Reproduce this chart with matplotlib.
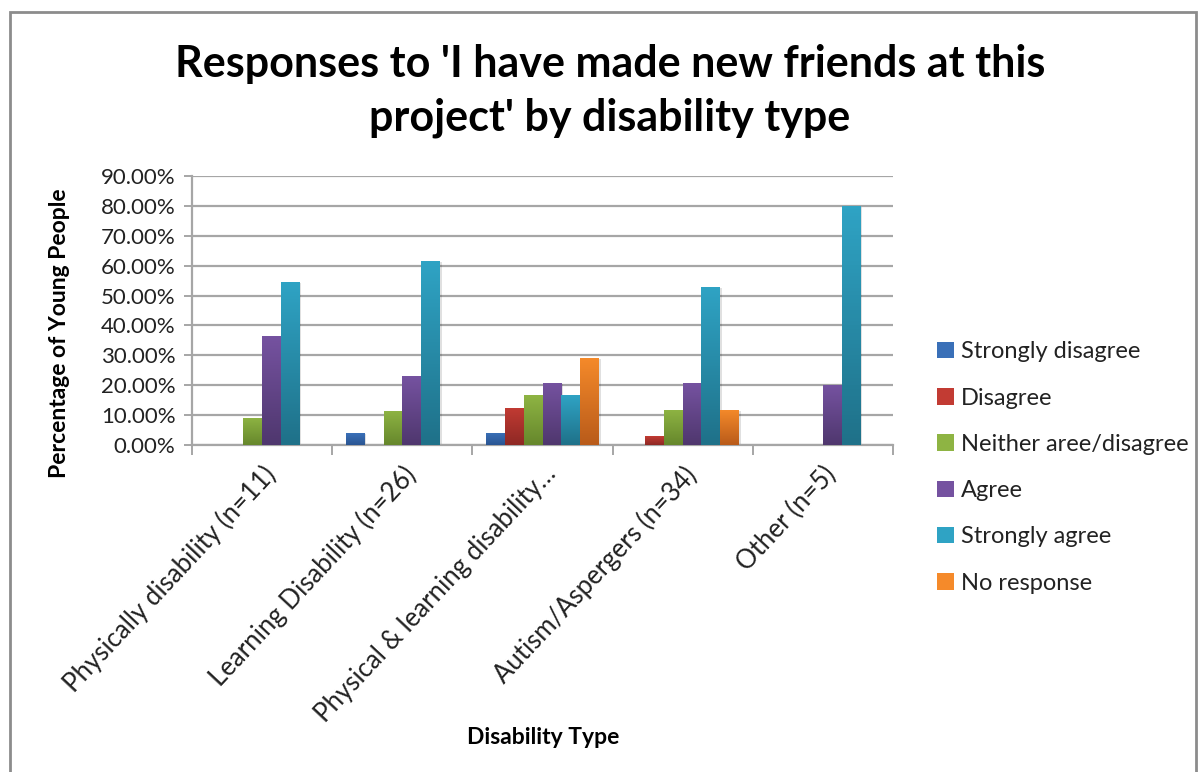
import numpy as np
import matplotlib
matplotlib.use("Agg")
import matplotlib.pyplot as plt
from matplotlib.colors import LinearSegmentedColormap
from matplotlib.patches import Rectangle
from matplotlib.ticker import FuncFormatter, MultipleLocator, FixedLocator

# data (percent of young people)
categories = ["Physically disability (n=11)", "Learning Disability (n=26)",
              "Physical & learning disability…", "Autism/Aspergers (n=34)",
              "Other (n=5)"]
responses = ["Strongly disagree", "Disagree", "Neither aree/disagree",
             "Agree", "Strongly agree", "No response"]
strongly_disagree = [0.0, 3.85, 4.17, 0.0, 0.0]
disagree = [0.0, 0.0, 12.50, 2.94, 0.0]
neither = [9.09, 11.54, 16.67, 11.76, 0.0]
agree = [36.36, 23.08, 20.83, 20.59, 20.0]
strongly_agree = [54.55, 61.54, 16.67, 52.94, 80.0]
no_response = [0.0, 0.0, 29.17, 11.76, 0.0]
series = [strongly_disagree, disagree, neither, agree, strongly_agree, no_response]

# (top colour, bottom colour) for the excel style gradient
colors = [("#3A70B8", "#2A5592"),
          ("#C23B33", "#8E2824"),
          ("#8EB443", "#66872C"),
          ("#7552A0", "#4F376E"),
          ("#2FA3C4", "#1F7189"),
          ("#F58A2A", "#B95B1A")]

plt.rcParams['font.family'] = ['Lato', 'DejaVu Sans']

fig = plt.figure(figsize=(11.98, 7.72), dpi=100)
W, H = 1198, 772
ax = fig.add_axes([192 / W, 1 - 445 / H, (893 - 192) / W, (445 - 176) / H])

# outer chart frame
fig.patches.append(Rectangle((10 / W, -0.05), (1196 - 10) / W, 1.05 - 12 / H,
                             transform=fig.transFigure, fill=False,
                             edgecolor="#8C8C8C", linewidth=2))

x = np.arange(len(categories))
w = 0.134
grad = np.linspace(0, 1, 64).reshape(-1, 1)
for i, (vals, (c_top, c_bot)) in enumerate(zip(series, colors)):
    cmap = LinearSegmentedColormap.from_list("g%d" % i, [c_bot, c_top])
    bars = ax.bar(x + (i - 2.5) * w, vals, width=w, color=c_top,
                  label=responses[i], zorder=3, linewidth=0)
    for b in bars:
        h = b.get_height()
        if h <= 0:
            continue
        # soft shadow
        ax.add_patch(Rectangle((b.get_x() + 0.012, 0), b.get_width(), h - 0.3,
                               facecolor="#000000", alpha=0.12, zorder=2, linewidth=0))
        im = ax.imshow(grad, cmap=cmap, origin="lower", aspect="auto",
                       extent=(b.get_x(), b.get_x() + b.get_width(), 0, h), zorder=3.5)
        im.set_clip_path(b)

ax.set_xlim(-0.5, 4.5)
ax.set_ylim(0, 90)

# axes styling
ax.yaxis.set_major_locator(MultipleLocator(10))
ax.yaxis.set_major_formatter(FuncFormatter(lambda v, p: "%.2f%%" % v))
ax.grid(axis="y", color="#A6A6A6", linewidth=1.6, zorder=0)
ax.set_axisbelow(True)
for s in ["top", "right"]:
    ax.spines[s].set_visible(False)
ax.spines["left"].set_color("#A6A6A6")
ax.spines["bottom"].set_color("#A6A6A6")
ax.spines["left"].set_linewidth(1.6)
ax.spines["bottom"].set_linewidth(1.6)
ax.tick_params(axis="y", length=6, width=1.4, color="#A6A6A6", labelsize=16,
               labelcolor="#222222", pad=6)

ax.set_xticks(x)
ax.set_xticklabels(categories, rotation=47, ha="right", va="top",
                   rotation_mode="anchor", fontsize=18.5, color="#222222")
ax.tick_params(axis="x", which="major", length=0, pad=12)
ax.xaxis.set_minor_locator(FixedLocator(np.arange(-0.5, 5, 1)))
ax.tick_params(axis="x", which="minor", length=7, width=1.4, color="#A6A6A6")

fig.text(610 / W, 1 - 91 / H,
         "Responses to 'I have made new friends at this\nproject' by disability type",
         ha="center", va="center", fontsize=31, fontweight="bold",
         linespacing=1.4)
fig.text(60 / W, 1 - 333 / H, "Percentage of Young People", rotation=90,
         ha="center", va="center", fontsize=16.5, fontweight="bold")
fig.text(543 / W, 1 - 737 / H, "Disability Type", ha="center", va="center",
         fontsize=16.5, fontweight="bold")

fig.legend(loc="upper left", bbox_to_anchor=(916 / W, 1 - 320 / H),
           frameon=False, fontsize=17, handlelength=0.7, handleheight=0.7,
           handletextpad=0.3, labelspacing=1.07, labelcolor="#222222")

fig.savefig("out.png", dpi=100)
